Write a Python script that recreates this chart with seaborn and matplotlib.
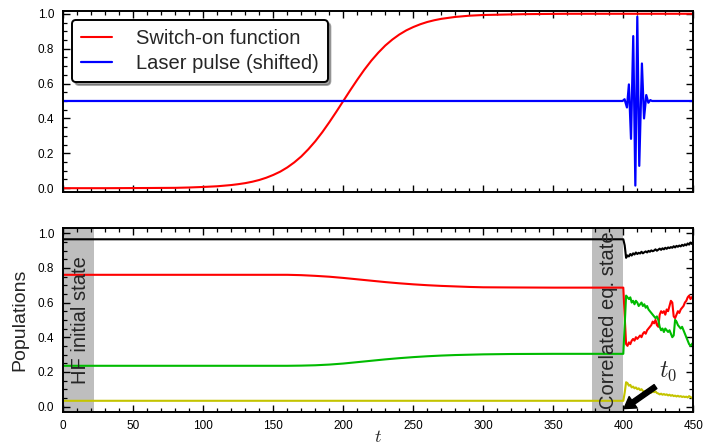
import numpy as np
import pandas as pd
import matplotlib
matplotlib.use("Agg")
import matplotlib.pyplot as plt
from matplotlib.ticker import MultipleLocator
import seaborn as sns

# ---------------- data ----------------
# switch-on function (upper panel)
t_switch = [0, 30, 60, 80, 90, 100, 110, 120, 125, 130, 135, 140, 145, 150, 155, 160,
            165, 170, 175, 180, 185, 190, 195, 200, 205, 210, 215, 220, 225, 230, 235,
            240, 245, 250, 255, 260, 265, 270, 280, 290, 300, 330, 360, 400, 450]
switch_on = [0.0, 0.0, 0.001, 0.002, 0.004, 0.007, 0.011, 0.018, 0.023, 0.029, 0.037,
             0.047, 0.060, 0.076, 0.095, 0.119, 0.148, 0.182, 0.223, 0.269, 0.321,
             0.378, 0.438, 0.5, 0.562, 0.622, 0.679, 0.731, 0.777, 0.818, 0.852,
             0.881, 0.905, 0.924, 0.940, 0.953, 0.963, 0.971, 0.982, 0.989, 0.993,
             0.998, 1.0, 1.0, 1.0]

# laser pulse, shifted up by 0.5
t_pulse = [0, 399.5, 400.9, 402.6, 404.0, 405.5, 407.1, 408.6, 410.0, 411.4, 413.3,
           414.8, 416.4, 417.9, 419.3, 420.5, 450]
pulse = [0.5, 0.5, 0.51, 0.463, 0.595, 0.283, 0.872, 0.015, 0.983, 0.128, 0.715,
         0.40, 0.534, 0.49, 0.505, 0.5, 0.5]

# populations before the pulse (adiabatic switch-on)
t_pre = [0, 50, 100, 150, 160, 170, 180, 190, 200, 210, 220, 230, 240, 250, 260, 270,
         280, 290, 300, 320, 350, 380, 400]
black_pre = [0.965] * 23
red_pre = [0.76, 0.76, 0.76, 0.76, 0.76, 0.758, 0.754, 0.749, 0.742, 0.734, 0.726,
           0.718, 0.711, 0.705, 0.700, 0.696, 0.693, 0.690, 0.688, 0.687, 0.686,
           0.686, 0.686]
green_pre = [0.235, 0.235, 0.235, 0.235, 0.235, 0.236, 0.238, 0.242, 0.248, 0.256,
             0.264, 0.272, 0.279, 0.285, 0.290, 0.294, 0.297, 0.299, 0.301, 0.303,
             0.304, 0.304, 0.304]
yellow_pre = [0.033] * 23

# populations after the pulse
t_post = list(range(401, 451))
black_post = [0.93, 0.858, 0.872, 0.866, 0.880, 0.871, 0.884, 0.877, 0.889, 0.880,
              0.887, 0.883, 0.893, 0.884, 0.890, 0.895, 0.889, 0.898, 0.893, 0.901,
              0.896, 0.900, 0.907, 0.899, 0.905, 0.911, 0.904, 0.913, 0.907, 0.916,
              0.910, 0.918, 0.914, 0.920, 0.916, 0.925, 0.918, 0.927, 0.922, 0.929,
              0.924, 0.933, 0.927, 0.936, 0.930, 0.941, 0.934, 0.946, 0.938, 0.944]
red_post = [0.52, 0.36, 0.35, 0.37, 0.36, 0.38, 0.39, 0.38, 0.40, 0.39, 0.40, 0.41,
            0.40, 0.42, 0.43, 0.42, 0.44, 0.45, 0.46, 0.47, 0.49, 0.48, 0.50, 0.47,
            0.46, 0.53, 0.55, 0.54, 0.55, 0.53, 0.56, 0.55, 0.58, 0.61, 0.60, 0.52,
            0.51, 0.53, 0.55, 0.54, 0.56, 0.57, 0.58, 0.60, 0.61, 0.63, 0.64, 0.62,
            0.63, 0.64]
green_post = [0.47, 0.64, 0.63, 0.62, 0.63, 0.60, 0.61, 0.59, 0.61, 0.60, 0.58, 0.59,
              0.60, 0.58, 0.59, 0.57, 0.58, 0.56, 0.55, 0.54, 0.53, 0.52, 0.51, 0.52,
              0.50, 0.46, 0.44, 0.45, 0.43, 0.45, 0.44, 0.43, 0.44, 0.42, 0.40, 0.41,
              0.50, 0.49, 0.47, 0.46, 0.45, 0.46, 0.44, 0.42, 0.40, 0.38, 0.36, 0.35,
              0.36, 0.37]
yellow_post = [0.08, 0.14, 0.135, 0.12, 0.125, 0.11, 0.115, 0.105, 0.11, 0.10, 0.105,
               0.095, 0.10, 0.09, 0.085, 0.09, 0.08, 0.078, 0.085, 0.08, 0.088, 0.083,
               0.087, 0.078, 0.075, 0.07, 0.074, 0.068, 0.072, 0.067, 0.07, 0.064,
               0.068, 0.062, 0.066, 0.06, 0.063, 0.058, 0.062, 0.057, 0.06, 0.055,
               0.058, 0.054, 0.057, 0.052, 0.06, 0.055, 0.05, 0.053]

xticks = [0, 50, 100, 150, 200, 250, 300, 350, 400, 450]
yticks = [0.0, 0.2, 0.4, 0.6, 0.8, 1.0]

# ---------------- style ----------------
sns.set_style("ticks")
plt.rcParams.update({
    "font.family": ["Liberation Sans", "DejaVu Sans"],
    "mathtext.fontset": "cm",
    "xtick.direction": "in",
    "ytick.direction": "in",
    "xtick.top": True,
    "ytick.right": True,
    "xtick.major.size": 5,
    "ytick.major.size": 5,
    "xtick.minor.size": 2.8,
    "ytick.minor.size": 2.8,
    "xtick.major.width": 1.0,
    "ytick.major.width": 1.0,
    "xtick.minor.width": 0.9,
    "ytick.minor.width": 0.9,
    "xtick.labelsize": 8.5,
    "ytick.labelsize": 8.5,
    "axes.linewidth": 1.4,
    "axes.edgecolor": "black",
})

fig = plt.figure(figsize=(7.04, 4.45), dpi=100)
ax1 = fig.add_axes([0.0899, 0.5685, 0.8949, 0.4068])
ax2 = fig.add_axes([0.0899, 0.0748, 0.8949, 0.4128])

for ax in (ax1, ax2):
    ax.set_xlim(0, 450)
    ax.set_xticks(xticks)
    ax.set_yticks(yticks)
    ax.xaxis.set_minor_locator(MultipleLocator(10))
    ax.yaxis.set_minor_locator(MultipleLocator(0.05))
    ax.tick_params(which="both", direction="in", top=True, right=True, colors="black")
    ax.tick_params(axis="x", which="major", labelsize=8.5, pad=6)
    ax.tick_params(axis="y", which="major", labelsize=8.5, pad=6.5)
    for s in ax.spines.values():
        s.set_visible(True)
        s.set_color("black")

# ---------------- upper panel ----------------
sns.lineplot(x=t_switch, y=switch_on, ax=ax1, color="#ff0000", lw=1.5,
             estimator=None, label="Switch-on function")
sns.lineplot(x=t_pulse, y=pulse, ax=ax1, color="#0000ff", lw=1.6,
             estimator=None, label="Laser pulse (shifted)")
ax1.set_ylim(-0.022, 1.016)
ax1.tick_params(axis="x", labelbottom=False)
ax1.set_xlabel("")
ax1.set_ylabel("")
leg = ax1.legend(loc="upper left", fontsize=14.5, frameon=True, fancybox=True,
                 shadow=True, framealpha=1, edgecolor="black", handlelength=1.5,
                 handletextpad=1.2, borderpad=0.45, labelspacing=0.3,
                 borderaxespad=0.45)
leg.get_frame().set_linewidth(1.4)

# ---------------- lower panel ----------------
t_all = t_pre + t_post
pops = pd.DataFrame({
    "t": t_all,
    "black": black_pre + black_post,
    "red": red_pre + red_post,
    "green": green_pre + green_post,
    "yellow": yellow_pre + yellow_post,
})

ax2.axvspan(0, 22, color="#bebebe", lw=0, zorder=0)
ax2.axvspan(378, 400, color="#bebebe", lw=0, zorder=0)

line_colors = {"black": "black", "red": "#ff0000", "green": "#00bb00", "yellow": "#c4c400"}
for col, c in line_colors.items():
    sns.lineplot(data=pops, x="t", y=col, ax=ax2, color=c, lw=1.5, estimator=None)

ax2.set_ylim(-0.03, 1.03)
ax2.set_xlabel("$t$", fontsize=13, labelpad=-2)
ax2.set_ylabel("Populations", fontsize=14, labelpad=7)

ax2.text(12, 0.5, "HF initial state", rotation=90, fontsize=14.5,
         ha="center", va="center")
ax2.text(389.5, 0.5, "Correlated eq. state", rotation=90, fontsize=14.5,
         ha="center", va="center")

ax2.annotate("", xy=(400.5, -0.012), xytext=(423, 0.115),
             arrowprops=dict(facecolor="black", edgecolor="black", width=3.5,
                             headwidth=10, headlength=8, shrink=0))
ax2.text(432, 0.205, "$t_0$", fontsize=17, ha="center", va="center")

fig.savefig("out.png", dpi=100)
